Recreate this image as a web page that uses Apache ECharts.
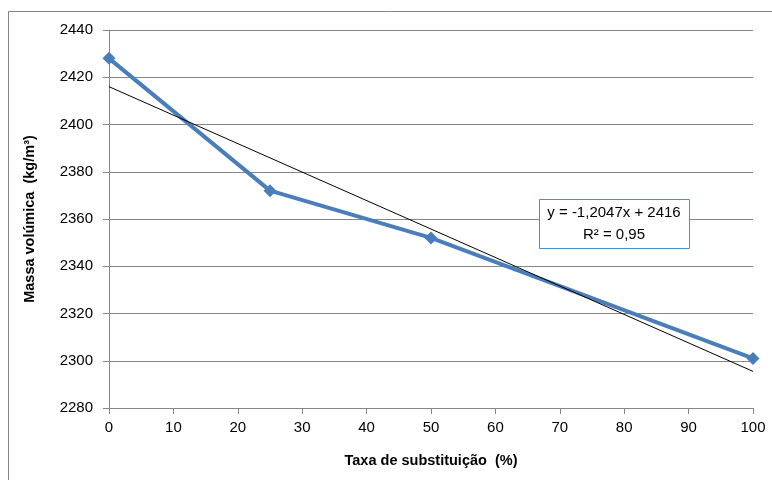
<!DOCTYPE html>
<html>
<head>
<meta charset="utf-8">
<script src="https://cdn.jsdelivr.net/npm/echarts@6/dist/echarts.min.js"></script>
<style>
  html, body { margin: 0; padding: 0; background: #fff; }
  #chart { width: 772px; height: 480px; }
</style>
</head>
<body>
<div id="chart"></div>
<script>
// valores
var taxa = [0, 25, 50, 100];
var massa = [2428, 2372, 2352, 2301];
// linha de tendência (pontos extremos)
var tendX = [0, 100];
var tendY = [2416, 2295.5];
var equacao = ['y = -1,2047x + 2416', 'R² = 0,95'];

var chart = echarts.init(document.getElementById('chart'));
var fonte = '"Liberation Sans", Arial, sans-serif';
var cinza = '#868686';

var option = {
    animation: false,
    backgroundColor: '#fff',
    grid: {
        left: 109,
        right: 19,
        top: 30,
        bottom: 72
    },
    xAxis: {
        type: 'value',
        min: 0,
        max: 100,
        interval: 10,
        name: 'Taxa de substituição  (%)',
        nameLocation: 'middle',
        nameGap: 45,
        nameTextStyle: { fontFamily: fonte, fontSize: 14.5, fontWeight: 'bold', color: '#000' },
        axisLine: { lineStyle: { color: cinza, width: 1 } },
        axisTick: { show: true, inside: false, length: 6, lineStyle: { color: cinza } },
        axisLabel: { fontFamily: fonte, fontSize: 15, color: '#000', margin: 12 },
        splitLine: { show: false }
    },
    yAxis: {
        type: 'value',
        min: 2280,
        max: 2440,
        interval: 20,
        name: 'Massa volúmica  (kg/m³)',
        nameLocation: 'middle',
        nameGap: 72,
        nameTextStyle: { fontFamily: fonte, fontSize: 14.5, fontWeight: 'bold', color: '#000' },
        axisLine: { show: true, lineStyle: { color: cinza, width: 1 } },
        axisTick: { show: true, inside: false, length: 6, lineStyle: { color: cinza } },
        axisLabel: {
            fontFamily: fonte, fontSize: 15, color: '#000', margin: 16,
            formatter: function (v) { return String(v); }
        },
        splitLine: { show: true, lineStyle: { color: cinza, width: 1 } }
    },
    series: [
        {
            name: 'Tendência',
            type: 'line',
            data: tendX.map(function (x, i) { return [x, tendY[i]]; }),
            symbol: 'none',
            lineStyle: { color: '#000', width: 1 },
            z: 3
        },
        {
            name: 'Massa volúmica',
            type: 'line',
            data: taxa.map(function (x, i) { return [x, massa[i]]; }),
            symbol: 'diamond',
            symbolSize: 13,
            itemStyle: { color: '#4a7ebb' },
            lineStyle: { color: '#4a7ebb', width: 4 },
            z: 2
        }
    ],
    graphic: [
        {
            type: 'rect',
            shape: { x: 8.5, y: 11.5, width: 800, height: 500 },
            style: { fill: 'none', stroke: cinza, lineWidth: 1 },
            silent: true,
            z: -1
        },
        {
            type: 'rect',
            shape: { x: 539.5, y: 199.5, width: 150, height: 49 },
            style: { fill: '#fff', stroke: '#4a90d0', lineWidth: 1 },
            z: 10
        },
        {
            type: 'text',
            x: 614,
            y: 213,
            style: { text: equacao[0], fontFamily: fonte, fontSize: 15, fill: '#000', align: 'center', verticalAlign: 'middle' },
            z: 11
        },
        {
            type: 'text',
            x: 614,
            y: 235,
            style: { text: equacao[1], fontFamily: fonte, fontSize: 15, fill: '#000', align: 'center', verticalAlign: 'middle' },
            z: 11
        }
    ]
};

chart.setOption(option);
</script>
</body>
</html>
